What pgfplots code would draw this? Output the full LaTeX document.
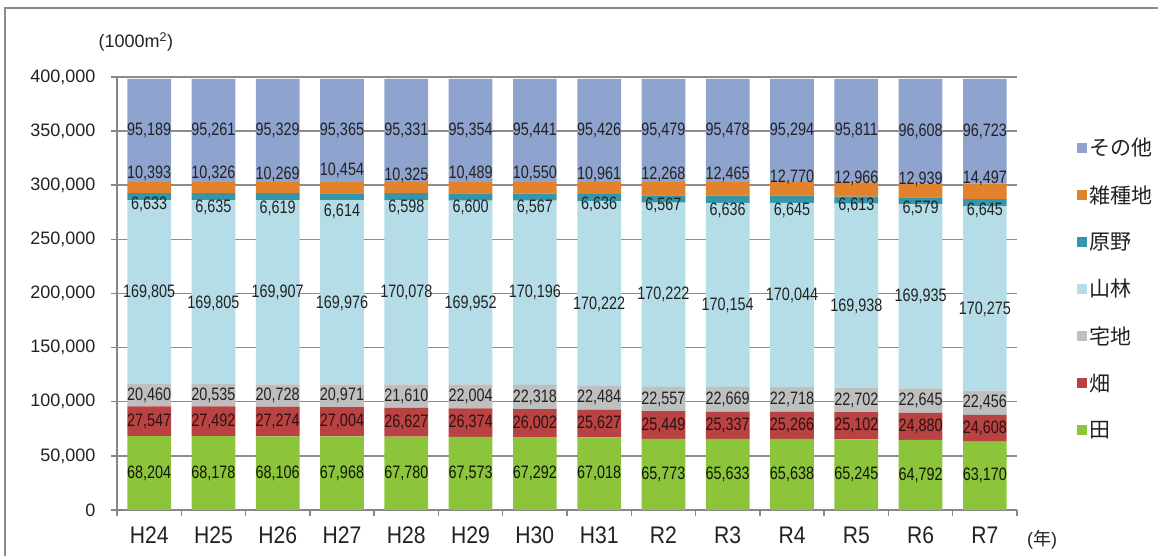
\documentclass[border=0pt]{standalone}
\usepackage{fontspec}
\setmainfont{Liberation Sans}
\newfontfamily\jp{Noto Sans CJK JP}
\newfontfamily\narrow[FakeStretch=0.8]{Liberation Sans}
\newfontfamily\xnarrow[FakeStretch=0.88]{Liberation Sans}
\usepackage{pgfplots}
\pgfplotsset{compat=1.18}
\usepackage{pgfplotstable}

\definecolor{cSonota}{HTML}{8FA3CF}
\definecolor{cZasshu}{HTML}{E3822D}
\definecolor{cGenya}{HTML}{3596AB}
\definecolor{cSanrin}{HTML}{B4DDE7}
\definecolor{cTaku}{HTML}{BFBFBF}
\definecolor{cHata}{HTML}{B94343}
\definecolor{cTa}{HTML}{8CC43C}
\definecolor{gridgray}{HTML}{8C8C8C}
\definecolor{axisgray}{HTML}{868686}
\definecolor{framegray}{HTML}{8A8A8A}
\definecolor{txt}{HTML}{222222}

\pgfplotsset{mysq/.style={legend image code/.code={\fill[##1,draw=none] (0pt,-5pt) rectangle (10pt,5pt);}}}

\pgfplotstableread{
x ta hata taku sanrin genya zasshu sonota lta lha ltk lsr lgn lzs lso
0 68204 27547 20460 169805 6633 10393 95189 34102 81978 105981 201114 282000 311000 350637
1 68178 27492 20535 169805 6635 10326 95261 34089 81924 105938 191108 280000 311000 350602
2 68106 27274 20728 169907 6619 10269 95329 34053 81743 105744 201062 279000 310000 350568
3 67968 27004 20971 169976 6614 10454 95365 33984 81470 105458 190931 276000 314000 350670
4 67780 26627 21610 170078 6598 10325 95331 33890 81094 105212 201056 280000 309000 350684
5 67573 26374 22004 169952 6600 10489 95354 33787 80760 104949 190927 280000 311000 350669
6 67292 26002 22318 170196 6567 10550 95441 33646 80293 104453 200710 280000 311000 350646
7 67018 25627 22484 170222 6636 10961 95426 33509 79832 103887 190240 282000 310000 350661
8 65773 25449 22557 170222 6567 12268 95479 32887 78498 102501 198890 281000 310000 350576
9 65633 25337 22669 170154 6636 12465 95478 32817 78302 102305 188716 277000 310000 350633
10 65638 25266 22718 170044 6645 12770 95294 32819 78271 102263 198644 277000 307000 350728
11 65245 25102 22702 169938 6613 12966 95811 32623 77796 101698 188018 281000 306000 350472
12 64792 24880 22645 169935 6579 12939 96608 32396 77232 100995 197285 279000 305000 350074
13 63170 24608 22456 170275 6645 14497 96723 31585 75474 99006 185372 277000 306000 350013
}\data

\begin{document}
\begin{tikzpicture}
\path[use as bounding box] (0pt,0pt) rectangle (1158pt,556pt);
\draw[color=framegray, line width=2pt] (5pt,-10pt) -- (5pt,548pt) -- (1170pt,548pt);
\begin{axis}[
  at={(117pt,46pt)}, anchor=south west, scale only axis,
  width=900pt, height=433pt,
  ybar stacked, bar width=0.68,
  xmin=-0.5, xmax=13.5, ymin=0, ymax=400000,
  xtick={-0.5,0.5,...,13.5}, xticklabels={},
  extra x ticks={0,1,...,13},
  extra x tick labels={H24,H25,H26,H27,H28,H29,H30,H31,R2,R3,R4,R5,R6,R7},
  extra x tick style={major tick length=0pt, xticklabel style={font=\xnarrow\fontsize{24}{24}\selectfont, text=txt, yshift=-13pt}},
  ytick={0,50000,...,400000},
  scaled y ticks=false,
  yticklabel style={font=\fontsize{18}{18}\selectfont, text=txt, xshift=-12pt, /pgf/number format/.cd, fixed, 1000 sep={,}, assume math mode=true},
  ymajorgrids, grid style={color=gridgray, line width=1.5pt},
  axis x line*=bottom, axis y line*=left,
  axis line style={color=axisgray, line width=1.5pt},
  tick style={color=axisgray, line width=1.5pt},
  tick align=outside, major tick length=6pt,
  reverse legend,
  legend cell align=left,
  legend style={at={(1.066,0.866)}, anchor=north west, draw=none, fill=none,
    font=\jp\fontsize{21}{21}\selectfont, text=txt, row sep=22.2pt, inner sep=0pt,
    nodes={inner sep=3pt}},
  clip=false,
]
\addplot[fill=cTa, draw=none, mysq] table[x=x,y=ta]{\data};
\addlegendentry{田}
\addplot[fill=cHata, draw=none, mysq] table[x=x,y=hata]{\data};
\addlegendentry{畑}
\addplot[fill=cTaku, draw=none, mysq] table[x=x,y=taku]{\data};
\addlegendentry{宅地}
\addplot[fill=cSanrin, draw=none, mysq] table[x=x,y=sanrin]{\data};
\addlegendentry{山林}
\addplot[fill=cGenya, draw=none, mysq] table[x=x,y=genya]{\data};
\addlegendentry{原野}
\addplot[fill=cZasshu, draw=none, mysq] table[x=x,y=zasshu]{\data};
\addlegendentry{雑種地}
\addplot[fill=cSonota, draw=none, mysq] table[x=x,y=sonota]{\data};
\addlegendentry{その他}
\node[font=\fontsize{18}{18}\selectfont, text=txt] at (rel axis cs:0.021,1.081) {(1000m\textsuperscript{2})};
\node[font=\fontsize{18}{18}\selectfont, text=txt] at (rel axis cs:1.028,-0.069) {({\jp 年})};
\end{axis}
\begin{axis}[
  at={(117pt,46pt)}, anchor=south west, scale only axis,
  width=900pt, height=433pt,
  xmin=-0.5, xmax=13.5, ymin=0, ymax=400000,
  hide axis, clip=false,
  point meta=explicit,
  nodes near coords={\pgfmathprintnumber[fixed,1000 sep={,},assume math mode=true]{\pgfplotspointmeta}},
  every node near coord/.style={anchor=center, inner sep=0pt, font=\narrow\fontsize{18}{18}\selectfont},
]
\addplot[only marks, mark=*, mark size=0pt, mark options={draw=none,fill=none}, every node near coord/.append style={text=black!70!cTa!40!black}] table[x=x,y=lta,meta=ta]{\data};
\addplot[only marks, mark=*, mark size=0pt, mark options={draw=none,fill=none}, every node near coord/.append style={text=black!75!cHata}] table[x=x,y=lha,meta=hata]{\data};
\addplot[only marks, mark=*, mark size=0pt, mark options={draw=none,fill=none}, every node near coord/.append style={text=txt}] table[x=x,y=ltk,meta=taku]{\data};
\addplot[only marks, mark=*, mark size=0pt, mark options={draw=none,fill=none}, every node near coord/.append style={text=txt}] table[x=x,y=lsr,meta=sanrin]{\data};
\addplot[only marks, mark=*, mark size=0pt, mark options={draw=none,fill=none}, every node near coord/.append style={text=txt}] table[x=x,y=lgn,meta=genya]{\data};
\addplot[only marks, mark=*, mark size=0pt, mark options={draw=none,fill=none}, every node near coord/.append style={text=txt}] table[x=x,y=lzs,meta=zasshu]{\data};
\addplot[only marks, mark=*, mark size=0pt, mark options={draw=none,fill=none}, every node near coord/.append style={text=txt}] table[x=x,y=lso,meta=sonota]{\data};
\end{axis}
\end{tikzpicture}
\end{document}
